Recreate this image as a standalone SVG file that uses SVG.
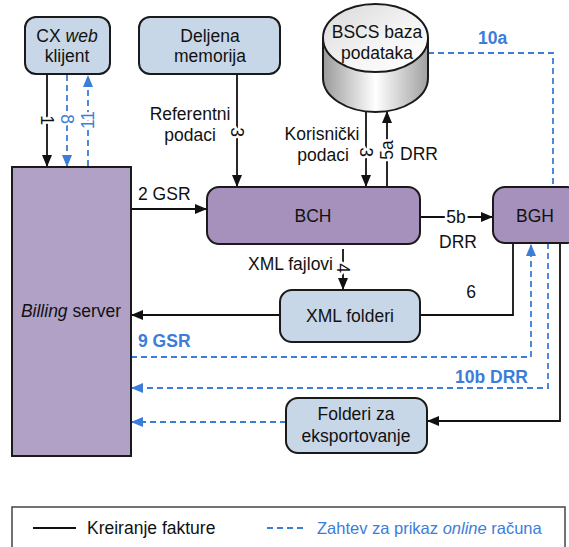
<svg xmlns="http://www.w3.org/2000/svg" width="569" height="547" viewBox="0 0 569 547">
<style>
text{font-family:"Liberation Sans",Arial,sans-serif;font-size:17.5px;fill:#111}
.box{stroke:#1a1a1a;stroke-width:2}
.blue{fill:#c8d7e7}
.purple{fill:#a591bc}
.bill{fill:#b1a1c7}
.ln{fill:none;stroke:#111;stroke-width:1.8}
.dl{fill:none;stroke:#3b7dd8;stroke-width:1.8;stroke-dasharray:6 4}
.bt{fill:#3b7dd8;font-weight:bold;font-size:17.5px}
.lab{paint-order:stroke;stroke:#fff;stroke-width:5px;stroke-linejoin:round}
.m{text-anchor:middle}
</style>
<defs>
<marker id="ab" markerUnits="userSpaceOnUse" markerWidth="12" markerHeight="10" refX="11" refY="5" orient="auto"><path d="M0,0 L12,5 L0,10 z" fill="#111"/></marker>
<marker id="au" markerUnits="userSpaceOnUse" markerWidth="12" markerHeight="10" refX="11" refY="5" orient="auto"><path d="M0,0 L12,5 L0,10 z" fill="#3b7dd8"/></marker>
<linearGradient id="cylBody" x1="0" y1="0" x2="1" y2="0">
<stop offset="0" stop-color="#9a9a9a"/><stop offset="0.5" stop-color="#ffffff"/><stop offset="1" stop-color="#a0a0a0"/>
</linearGradient>
<linearGradient id="cylTop" x1="0" y1="0" x2="1" y2="1">
<stop offset="0" stop-color="#d8d8d8"/><stop offset="0.6" stop-color="#f6f6f6"/><stop offset="1" stop-color="#ffffff"/>
</linearGradient>
</defs>

<g id="connectors">
<!-- CX <-> Billing -->
<line class="ln" x1="47" y1="75" x2="47" y2="166" marker-end="url(#ab)"/>
<line class="dl" x1="67" y1="75" x2="67" y2="166" marker-end="url(#au)"/>
<line class="dl" x1="88" y1="166" x2="88" y2="76" marker-end="url(#au)"/>
<!-- Deljena -> BCH -->
<line class="ln" x1="237" y1="75" x2="237" y2="186" marker-end="url(#ab)"/>
<!-- BSCS <-> BCH -->
<line class="ln" x1="366" y1="111" x2="366" y2="186" marker-end="url(#ab)"/>
<line class="ln" x1="387" y1="186" x2="387" y2="112" marker-end="url(#ab)"/>
<!-- Billing -> BCH -->
<line class="ln" x1="131" y1="209" x2="206" y2="209" marker-end="url(#ab)"/>
<!-- BCH -> BGH -->
<line class="ln" x1="420" y1="217" x2="492" y2="217" marker-end="url(#ab)"/>
<!-- BCH -> XML folderi -->
<line class="ln" x1="343" y1="249" x2="343" y2="289" marker-end="url(#ab)"/>
<!-- XML folderi -> Billing -->
<line class="ln" x1="280" y1="315" x2="132" y2="315" marker-end="url(#ab)"/>
<!-- BGH -> XML folderi -->
<polyline class="ln" points="513,243 513,315 420,315"/>
<!-- BGH -> Folderi za eksportovanje -->
<polyline class="ln" points="560,243 560,421 428,421" marker-end="url(#ab)"/>
<!-- 10a -->
<polyline class="dl" points="428,53 553,53 553,187"/>
<!-- 9 GSR -->
<polyline class="dl" points="131,357 531,357 531,245" marker-end="url(#au)"/>
<!-- 10b DRR -->
<polyline class="dl" points="548,243 548,388 132,388" marker-end="url(#au)"/>
<!-- Folderi -> Billing -->
<line class="dl" x1="286" y1="422" x2="132" y2="422" marker-end="url(#au)"/>

<!-- labels -->
<text class="lab m" transform="translate(47,120) rotate(90)" dy="6">1</text>
<text class="lab m" transform="translate(67,119) rotate(90)" dy="6" style="fill:#3b7dd8">8</text>
<text class="lab m" transform="translate(88,120) rotate(-90)" dy="6" style="fill:#3b7dd8">11</text>
<text class="lab m" transform="translate(237,132) rotate(90)" dy="6">3</text>
<text class="lab m" transform="translate(366,152) rotate(90)" dy="6">3</text>
<text class="lab m" transform="translate(387,150) rotate(-90)" dy="6">5a</text>
<text class="lab m" transform="translate(343,268) rotate(90)" dy="6">4</text>
<text class="lab m" x="456" y="223">5b</text>
<text class="m" x="190" y="120">Referentni</text>
<text class="m" x="190" y="141">podaci</text>
<text class="m" x="322" y="140">Korisnički</text>
<text class="m" x="323" y="161">podaci</text>
<text x="400" y="160">DRR</text>
<text x="138" y="200">2 GSR</text>
<text class="m" x="458" y="248">DRR</text>
<text x="333" y="270" text-anchor="end">XML fajlovi</text>
<text class="m" x="471" y="298">6</text>
<text class="bt" x="478" y="44">10a</text>
<text class="bt" x="138" y="347">9 GSR</text>
<text class="bt" x="455" y="383">10b DRR</text>
</g>

<g id="cx-web-klijent">
<rect class="box blue" x="25" y="17" width="85" height="57" rx="11"/>
<text class="m" x="67" y="42">CX <tspan font-style="italic">web</tspan></text>
<text class="m" x="67" y="62">klijent</text>
</g>

<g id="deljena-memorija">
<rect class="box blue" x="139" y="17" width="141" height="57" rx="11"/>
<text class="m" x="210" y="42">Deljena</text>
<text class="m" x="210" y="62">memorija</text>
</g>

<g id="bscs-baza">
<path d="M323,38 L323,78 A52.5,34 0 0 0 428,78 L428,38 Z" fill="url(#cylBody)" stroke="#1a1a1a" stroke-width="2"/>
<ellipse cx="375.5" cy="38" rx="52.5" ry="34" fill="url(#cylTop)" stroke="#1a1a1a" stroke-width="2"/>
<text class="m" x="377" y="38">BSCS baza</text>
<text class="m" x="377" y="59">podataka</text>
</g>

<g id="billing-server">
<rect class="box bill" x="12" y="167" width="119" height="289"/>
<text class="m" x="71" y="317"><tspan font-style="italic">Billing</tspan> server</text>
</g>

<g id="bch">
<rect class="box purple" x="207" y="187" width="213" height="57" rx="12"/>
<text class="m" x="313" y="222">BCH</text>
</g>

<g id="bgh">
<rect class="box purple" x="493" y="187" width="86" height="56" rx="12"/>
<text class="m" x="535" y="222">BGH</text>
</g>

<g id="xml-folderi">
<rect class="box blue" x="280" y="290" width="140" height="52" rx="12"/>
<text class="m" x="350" y="322">XML folderi</text>
</g>

<g id="folderi-eksport">
<rect class="box blue" x="286" y="398" width="141" height="55" rx="12"/>
<text class="m" x="356" y="420">Folderi za</text>
<text class="m" x="356" y="442">eksportovanje</text>
</g>

<g id="legend">
<rect x="12" y="507" width="553" height="60" fill="#fff" stroke="#444" stroke-width="1.5"/>
<line x1="33" y1="528" x2="76" y2="528" stroke="#111" stroke-width="1.8"/>
<text x="87" y="534">Kreiranje fakture</text>
<line x1="267" y1="528" x2="305" y2="528" stroke="#3b7dd8" stroke-width="1.8" stroke-dasharray="6 4"/>
<text x="317" y="534" style="fill:#3b7dd8;font-size:16.5px">Zahtev za prikaz <tspan font-style="italic">online</tspan> računa</text>
</g>
</svg>
